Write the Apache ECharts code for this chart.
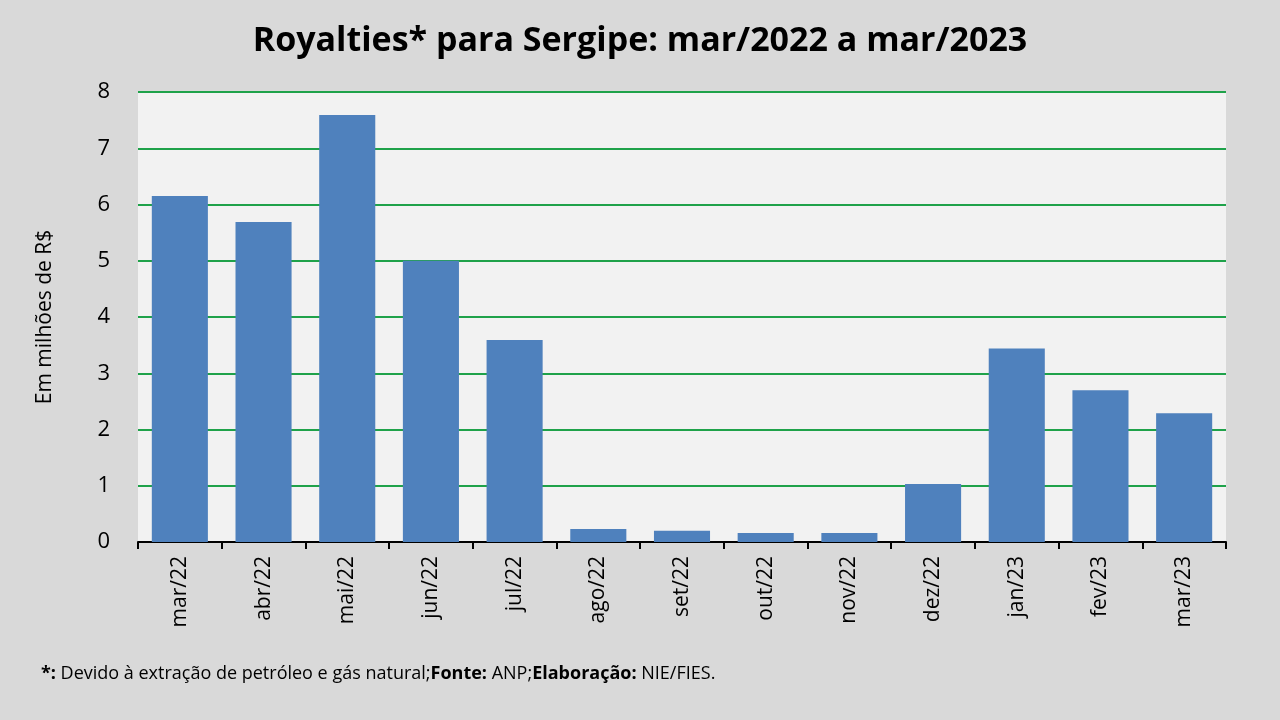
<!DOCTYPE html>
<html>
<head>
<meta charset="utf-8">
<script src="https://cdn.jsdelivr.net/npm/echarts@6/dist/echarts.min.js"></script>
<style>
  html, body { margin: 0; padding: 0; background: #d9d9d9; }
  #chart { width: 1280px; height: 720px; }
</style>
</head>
<body>
<div id="chart"></div>
<script>
// meses
const months = ['mar/22', 'abr/22', 'mai/22', 'jun/22', 'jul/22', 'ago/22', 'set/22',
  'out/22', 'nov/22', 'dez/22', 'jan/23', 'fev/23', 'mar/23'];
// royalties, em milhões de R$
const royalties = [6.15, 5.69, 7.59, 5.0, 3.59, 0.23, 0.2, 0.16, 0.16, 1.03, 3.44, 2.7, 2.29];
const yTicks = [0, 8, 1]; // min, max, intervalo

const fontFam = '"Open Sans", "Noto Sans", sans-serif';
const chart = echarts.init(document.getElementById('chart'));

const option = {
  backgroundColor: '#d9d9d9',
  animation: false,
  title: [{
    text: 'Royalties* para Sergipe: mar/2022 a mar/2023',
    left: 'center',
    top: 19,
    textStyle: { fontFamily: fontFam, fontSize: 34, fontWeight: 'bold', color: '#000' }
  }, {
    // rodapé
    text: '{b|*:} Devido à extração de petróleo e gás natural;{b|Fonte:} ANP;{b|Elaboração:} NIE/FIES.',
    left: 36,
    top: 660,
    textStyle: {
      fontFamily: fontFam, fontSize: 18, fontWeight: 'normal', color: '#000',
      rich: { b: { fontFamily: fontFam, fontSize: 18, fontWeight: 'bold', color: '#000' } }
    }
  }],
  grid: {
    left: 138, right: 54, top: 92, bottom: 178,
    show: true, backgroundColor: '#f2f2f2', borderWidth: 0
  },
  xAxis: {
    type: 'category',
    data: months,
    axisLine: { lineStyle: { color: '#000', width: 2 } },
    axisTick: { show: true, length: 7, lineStyle: { color: '#000', width: 2 } },
    axisLabel: {
      rotate: 90, margin: 14, color: '#000',
      fontFamily: fontFam, fontSize: 21
    }
  },
  yAxis: {
    type: 'value',
    min: yTicks[0], max: yTicks[1], interval: yTicks[2],
    name: 'Em milhões de R$',
    nameLocation: 'middle',
    nameGap: 82,
    nameTextStyle: { fontFamily: fontFam, fontSize: 21, color: '#000' },
    axisLine: { show: false },
    axisTick: { show: false },
    splitLine: { lineStyle: { color: '#1fa24a', width: 2 } },
    axisLabel: { color: '#000', fontFamily: fontFam, fontSize: 22, margin: 28 }
  },
  series: [{
    type: 'bar',
    data: royalties,
    barCategoryGap: '33%',
    itemStyle: { color: '#4f81bd' }
  }]
};

chart.setOption(option);
</script>
</body>
</html>
